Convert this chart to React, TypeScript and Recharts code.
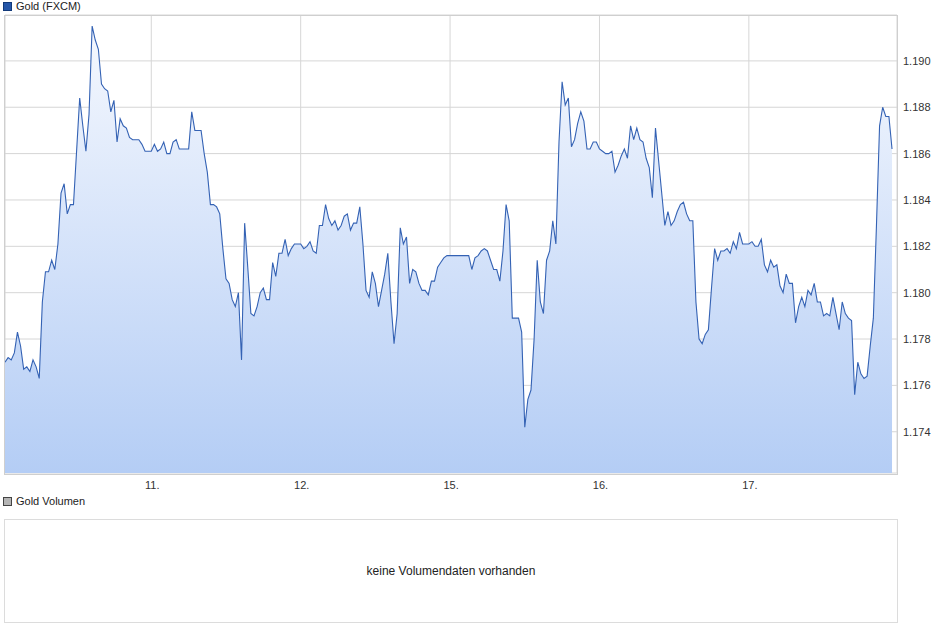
import { AreaChart, Area, XAxis, YAxis, CartesianGrid } from 'recharts';

// Gold (FXCM), 30-minute closes per trading day
const day10 = [
    1.1770, 1.1772, 1.1771, 1.1774, 1.1783, 1.1777, 1.1767, 1.1768, 1.1766, 1.1771,
    1.1768, 1.1763, 1.1796, 1.1809, 1.1809, 1.1814, 1.1810, 1.1821, 1.1843, 1.1847,
    1.1834, 1.1838, 1.1838, 1.1861, 1.1884, 1.1872, 1.1861, 1.1877, 1.1915, 1.1909,
    1.1905, 1.1890, 1.1888, 1.1887, 1.1878, 1.1883, 1.1865, 1.1875, 1.1872, 1.1871,
    1.1867, 1.1866, 1.1866, 1.1866, 1.1864, 1.1861, 1.1861,
];
const day11 = [
    1.1861, 1.1864, 1.1861, 1.1862, 1.1865, 1.1860, 1.1860, 1.1865, 1.1866, 1.1862,
    1.1862, 1.1862, 1.1862, 1.1878, 1.1870, 1.1870, 1.1870, 1.1860, 1.1852, 1.1838,
    1.1838, 1.1837, 1.1834, 1.1819, 1.1806, 1.1804, 1.1797, 1.1794, 1.1800, 1.1771,
    1.1830, 1.1811, 1.1791, 1.1790, 1.1794, 1.1800, 1.1802, 1.1797, 1.1797, 1.1813,
    1.1807, 1.1817, 1.1817, 1.1823, 1.1816, 1.1819, 1.1821, 1.1821,
];
const day12 = [
    1.1821, 1.1819, 1.1820, 1.1822, 1.1818, 1.1817, 1.1829, 1.1829, 1.1838, 1.1832,
    1.1829, 1.1831, 1.1827, 1.1829, 1.1833, 1.1834, 1.1827, 1.1830, 1.1830, 1.1837,
    1.1821, 1.1801, 1.1798, 1.1809, 1.1804, 1.1794, 1.1801, 1.1808, 1.1817, 1.1796,
    1.1778, 1.1791, 1.1828, 1.1821, 1.1824, 1.1804, 1.1810, 1.1809, 1.1804, 1.1801,
    1.1801, 1.1799, 1.1805, 1.1805, 1.1811, 1.1813, 1.1815, 1.1816,
];
const day15 = [
    1.1816, 1.1816, 1.1816, 1.1816, 1.1816, 1.1816, 1.1816, 1.1810, 1.1815, 1.1816,
    1.1818, 1.1819, 1.1818, 1.1814, 1.1810, 1.1810, 1.1805, 1.1818, 1.1838, 1.1831,
    1.1789, 1.1789, 1.1789, 1.1783, 1.1742, 1.1754, 1.1758, 1.1780, 1.1814, 1.1796,
    1.1791, 1.1814, 1.1818, 1.1831, 1.1821, 1.1865, 1.1891, 1.1881, 1.1884, 1.1863,
    1.1866, 1.1873, 1.1878, 1.1874, 1.1862, 1.1862, 1.1865, 1.1865,
];
const day16 = [
    1.1862, 1.1861, 1.1860, 1.1860, 1.1861, 1.1852, 1.1855, 1.1859, 1.1862, 1.1858,
    1.1872, 1.1866, 1.1871, 1.1866, 1.1865, 1.1858, 1.1854, 1.1841, 1.1871, 1.1857,
    1.1843, 1.1829, 1.1835, 1.1829, 1.1831, 1.1835, 1.1838, 1.1839, 1.1834, 1.1831,
    1.1831, 1.1796, 1.1780, 1.1778, 1.1782, 1.1784, 1.1802, 1.1819, 1.1814, 1.1818,
    1.1818, 1.1819, 1.1817, 1.1822, 1.1819, 1.1826, 1.1821, 1.1821,
];
const day17 = [
    1.1821, 1.1822, 1.1820, 1.1820, 1.1823, 1.1812, 1.1809, 1.1814, 1.1811, 1.1812,
    1.1803, 1.1800, 1.1808, 1.1804, 1.1804, 1.1787, 1.1794, 1.1798, 1.1794, 1.1801,
    1.1799, 1.1804, 1.1796, 1.1796, 1.1790, 1.1791, 1.1790, 1.1798, 1.1791, 1.1784,
    1.1796, 1.1791, 1.1789, 1.1788, 1.1756, 1.1770, 1.1765, 1.1763, 1.1764, 1.1777,
    1.1789, 1.1829, 1.1872, 1.1880, 1.1876, 1.1876, 1.1862,
];

const sessions = [day10, day11, day12, day15, day16, day17];
const dayLabels = ['11.', '12.', '15.', '16.', '17.'];
const priceTicks = [1.174, 1.176, 1.178, 1.18, 1.182, 1.184, 1.186, 1.188, 1.19];

const prices = sessions.flat();
const data = prices.map((price, t) => ({ t, price }));

// day boundaries: index where each following session starts
const dayTicks: number[] = [];
let acc = 0;
for (let i = 0; i < sessions.length - 1; i++) {
    acc += sessions[i].length;
    dayTicks.push(acc);
}

const font = '"Liberation Sans", Arial, sans-serif';

function LegendBox({ top, color, border, label }: { top: number; color: string; border: string; label: string }) {
    return (
        <div style={{ position: 'absolute', left: 3, top, display: 'flex', alignItems: 'center', fontSize: 11, color: '#222' }}>
            <span style={{ display: 'inline-block', width: 7, height: 7, background: color, border: `1px solid ${border}`, marginRight: 4 }} />
            {label}
        </div>
    );
}

export default function App() {
    return (
        <div style={{ position: 'absolute', left: 0, top: 0, width: 946, height: 635, background: '#fff', fontFamily: font }}>
            <LegendBox top={0} color="#2556a8" border="#123a7a" label="Gold (FXCM)" />

            <div style={{ position: 'absolute', left: 0, top: 0 }}>
                <AreaChart width={946} height={495} data={data} margin={{ top: 15, right: 0, left: 5, bottom: 0 }}>
                    <defs>
                        <linearGradient id="goldFill" x1="0" y1="0" x2="0" y2="1">
                            <stop offset="0%" stopColor="#f5f8fe" stopOpacity={1} />
                            <stop offset="100%" stopColor="#b4cdf5" stopOpacity={1} />
                        </linearGradient>
                    </defs>
                    <CartesianGrid stroke="#d6d6d6" />
                    <XAxis
                        dataKey="t"
                        type="number"
                        domain={[0, prices.length + 0.6]}
                        allowDataOverflow
                        ticks={dayTicks}
                        tickFormatter={(v: number) => dayLabels[dayTicks.indexOf(v)] ?? ''}
                        axisLine={false}
                        tickLine={false}
                        height={22}
                        tick={{ fontSize: 11, fill: '#333', fontFamily: font, dx: 1 }}
                    />
                    <YAxis
                        orientation="right"
                        type="number"
                        domain={[1.17222, 1.19198]}
                        allowDataOverflow
                        ticks={priceTicks}
                        tickFormatter={(v: number) => v.toFixed(3)}
                        axisLine={false}
                        tickLine={false}
                        tickSize={4}
                        tickMargin={2}
                        width={49}
                        tick={{ fontSize: 11, fill: '#333', fontFamily: font, textAnchor: 'start' }}
                    />
                    <Area
                        type="linear"
                        dataKey="price"
                        stroke="#3462b4"
                        strokeWidth={1.1}
                        fill="url(#goldFill)"
                        fillOpacity={1}
                        isAnimationActive={false}
                        dot={false}
                        activeDot={false}
                    />
                </AreaChart>
            </div>

            {/* plot frame */}
            <div style={{ position: 'absolute', left: 4, top: 15, width: 892, height: 458, border: '1px solid #cfcfcf', pointerEvents: 'none' }} />

            <LegendBox top={495} color="#b5b5b5" border="#444" label="Gold Volumen" />
            <div
                style={{
                    position: 'absolute', left: 4, top: 519, width: 892, height: 102,
                    border: '1px solid #dcdcdc', display: 'flex', alignItems: 'center', justifyContent: 'center',
                    fontSize: 12, color: '#222',
                }}
            >
                keine Volumendaten vorhanden
            </div>
        </div>
    );
}
